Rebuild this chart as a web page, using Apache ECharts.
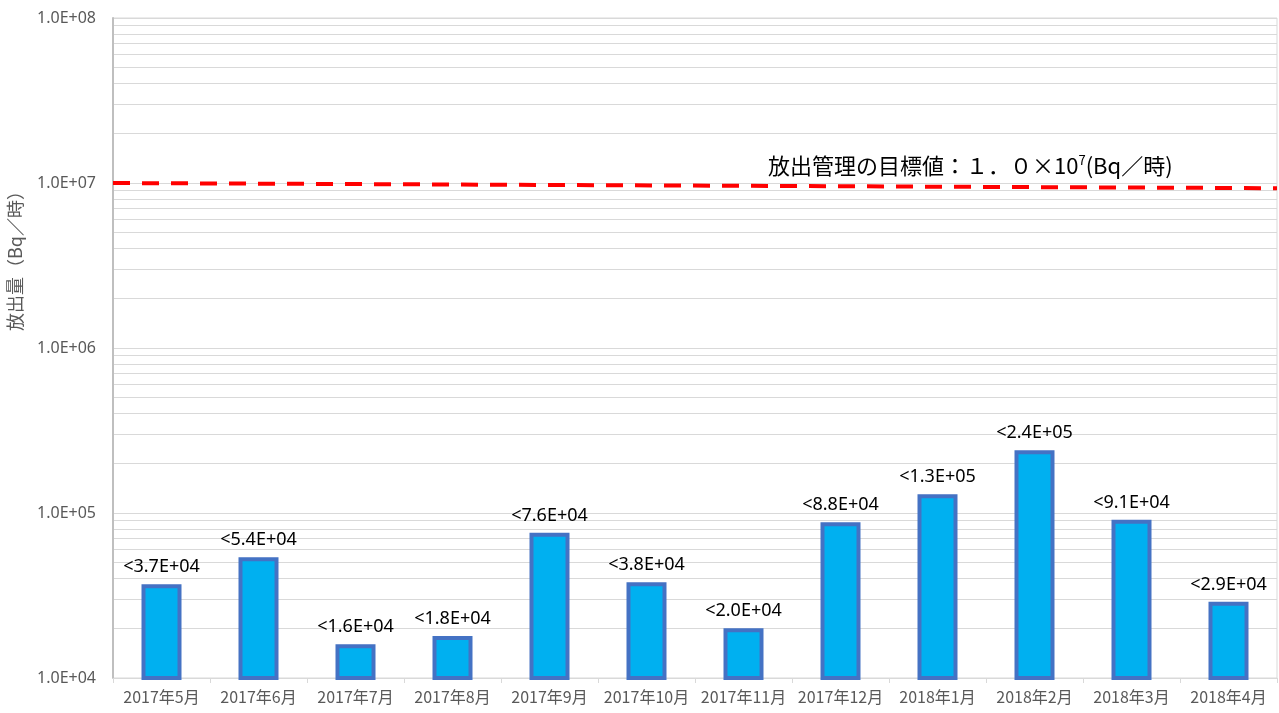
<!DOCTYPE html>
<html>
<head>
<meta charset="utf-8">
<title>放出量</title>
<script src="https://cdn.jsdelivr.net/npm/echarts@6/dist/echarts.min.js"></script>
<style>
  html, body { margin: 0; padding: 0; background: #fff; }
  #chart { width: 1279px; height: 713px; }
</style>
</head>
<body>
<div id="chart"></div>
<script>
// Monthly release amounts (Bq/hour), each shown as an upper bound "<value"
const categories = ['2017年5月', '2017年6月', '2017年7月', '2017年8月', '2017年9月', '2017年10月',
  '2017年11月', '2017年12月', '2018年1月', '2018年2月', '2018年3月', '2018年4月'];
const releaseValues = [3.7e4, 5.4e4, 1.6e4, 1.8e4, 7.6e4, 3.8e4, 2.0e4, 8.8e4, 1.3e5, 2.4e5, 9.1e4, 2.9e4];

// Target management line (start and end values across the plot)
const targetLine = [1.0e7, 9.3e6];

// Axis range and decades
const yMin = 1e4;
const yMax = 1e8;
const decades = [1e4, 1e5, 1e6, 1e7];
const minorSteps = [2, 3, 4, 5, 6, 7, 8, 9];

const minorGridValues = [];
decades.forEach(d => minorSteps.forEach(s => minorGridValues.push(s * d)));

function sci(v) {
  const s = Number(v).toExponential(1);          // e.g. "3.7e+4"
  const m = s.match(/^(-?[\d.]+)e([+-])(\d+)$/);
  if (!m) return s;
  return m[1] + 'E' + m[2] + m[3].padStart(2, '0');
}

const chart = echarts.init(document.getElementById('chart'), null, { renderer: 'canvas' });

const jpFont = '"Noto Sans CJK JP", "Noto Sans", sans-serif';

chart.setOption({
  animation: false,
  backgroundColor: '#ffffff',
  grid: {
    left: 113, right: 2, top: 18, bottom: 35,
    show: true, borderColor: '#D9D9D9', borderWidth: 1
  },
  xAxis: [
    {
      type: 'category',
      data: categories,
      boundaryGap: true,
      axisLine: { show: true, lineStyle: { color: '#D9D9D9', width: 1 } },
      axisTick: { show: true, alignWithLabel: false, length: 5, lineStyle: { color: '#D9D9D9' } },
      axisLabel: { color: '#595959', fontSize: 16, fontFamily: jpFont, margin: 11, interval: 0 }
    },
    {
      type: 'value',
      min: 0, max: 1,
      show: false
    }
  ],
  yAxis: {
    type: 'log',
    logBase: 10,
    min: yMin,
    max: yMax,
    interval: 1,
    axisLine: { show: true, lineStyle: { color: '#BFBFBF', width: 2 } },
    axisTick: { show: false },
    axisLabel: {
      color: '#595959', fontSize: 16, fontFamily: '"Noto Sans", sans-serif', margin: 17,
      formatter: v => sci(v)
    },
    splitLine: { show: true, lineStyle: { color: '#D9D9D9', width: 1 } },
    minorTick: { show: false },
    minorSplitLine: { show: false }
  },
  series: [
    {
      name: '放出量',
      type: 'bar',
      data: releaseValues,
      barWidth: 40,
      itemStyle: { color: '#00B0F0', borderColor: '#4472C4', borderWidth: 4 },
      label: {
        show: true,
        position: 'top',
        distance: 8,
        color: '#000000',
        fontSize: 18,
        fontFamily: '"Noto Sans", sans-serif',
        formatter: p => '<' + sci(p.value)
      },
      markLine: {
        silent: true,
        symbol: 'none',
        label: { show: false },
        lineStyle: { color: '#D9D9D9', width: 1, type: 'solid' },
        data: minorGridValues.map(v => ({ yAxis: v })),
        z: 0
      },
      z: 3
    },
    {
      name: '放出管理の目標値',
      type: 'line',
      xAxisIndex: 1,
      data: [[0, targetLine[0]], [1, targetLine[1]]],
      symbol: 'none',
      lineStyle: { color: '#FF0000', width: 4, type: [17, 12] },
      z: 4
    }
  ],
  graphic: [
    {
      type: 'text',
      x: 6,
      y: 331,
      rotation: Math.PI / 2,
      style: {
        text: '放出量（Bq／時）',
        fill: '#595959',
        font: '18px ' + jpFont
      }
    },
    {
      type: 'text',
      x: 768,
      y: 154,
      style: {
        text: '{a|放出管理の目標値：１．０×10}{s|7}{a|(Bq／時)}',
        rich: {
          a: { fill: '#000000', font: '22px ' + jpFont, verticalAlign: 'bottom' },
          s: { fill: '#000000', font: '13px ' + jpFont, verticalAlign: 'top', padding: [0, 0, 10, 0] }
        }
      }
    }
  ]
});
</script>
</body>
</html>
